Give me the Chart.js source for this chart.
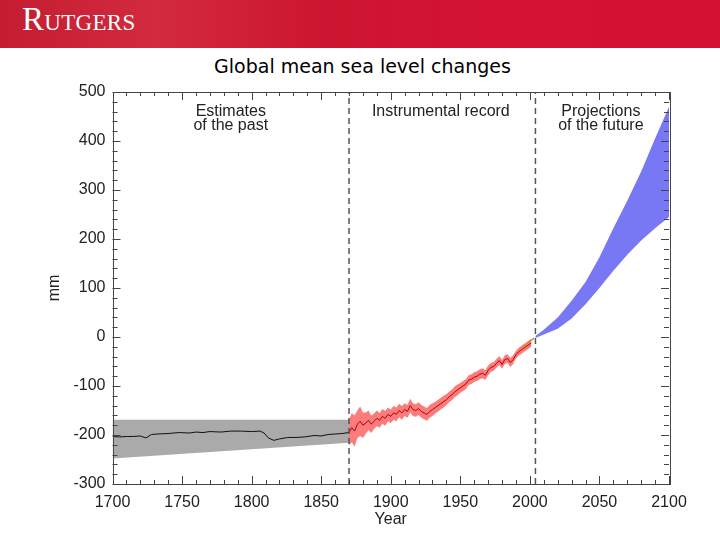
<!DOCTYPE html>
<html>
<head>
<meta charset="utf-8">
<script src="https://cdn.jsdelivr.net/npm/chart.js@4"></script>
<style>
  html, body { margin: 0; padding: 0; background: #fff; }
  #page { position: relative; width: 720px; height: 540px; overflow: hidden; }
  #banner {
    position: absolute; left: 0; top: 0; width: 720px; height: 48px;
    background: linear-gradient(90deg, #c41c30 0%, #d22a3e 22%, #cc1530 45%, #d41232 70%, #d3102f 100%);
  }
  #logo {
    position: absolute; left: 22px; top: 1px;
    font-family: "Liberation Serif", "DejaVu Serif", serif;
    font-size: 33px; font-variant: small-caps; letter-spacing: 0.3px;
    color: #fff;
  }
  #title {
    position: absolute; left: 0; top: 55px; width: 725px; text-align: center;
    font-family: "DejaVu Sans", sans-serif; font-size: 19px; color: #000;
  }
  #chart { position: absolute; left: 0; top: 0; }
</style>
</head>
<body>
<div id="page">
  <div id="banner"><div id="logo">Rutgers</div></div>
  <div id="title">Global mean sea level changes</div>
  <canvas id="chart" width="720" height="540"></canvas>
</div>
<script>
// tick labels
const yearTicks = [1700, 1750, 1800, 1850, 1900, 1950, 2000, 2050, 2100];
const mmTicks = [-300, -200, -100, 0, 100, 200, 300, 400, 500];

// estimates of the past (grey band + black line)
const pastBandYears = [1700, 1870];
const pastBandTop = [-169, -169];
const pastBandBottom = [-248, -216];
const pastYears = [1700, 1705, 1710, 1715, 1720, 1724, 1728, 1732, 1740, 1748, 1755, 1760, 1765, 1770,
  1778, 1785, 1792, 1800, 1806, 1809, 1812, 1816, 1820, 1826, 1832, 1838, 1845, 1850, 1855, 1860, 1865, 1870];
const pastLevel = [-203, -204, -203, -203, -202, -206, -199, -198, -197, -195, -196, -194, -195, -193,
  -194, -192, -192, -193, -192, -196, -206, -211, -208, -205, -205, -204, -201, -202, -199, -198, -197, -195];

// instrumental record (red line + red uncertainty)
const instYears = [1870, 1872, 1874, 1876, 1878, 1880, 1882, 1884, 1886, 1888, 1890, 1892, 1894, 1896, 1898,
  1900, 1902, 1904, 1906, 1908, 1910, 1912, 1914, 1916, 1918, 1920, 1922, 1924, 1926, 1928, 1930, 1932, 1934,
  1936, 1938, 1940, 1942, 1944, 1946, 1948, 1950, 1952, 1954, 1956, 1958, 1960, 1962, 1964, 1966, 1968, 1970,
  1972, 1974, 1976, 1978, 1980, 1982, 1984, 1986, 1988, 1990, 1992, 1994, 1996, 1998, 2000, 2001];
const instLevel = [-195, -185, -192, -178, -172, -180, -176, -170, -178, -172, -166, -170, -162, -166, -158,
  -162, -155, -158, -150, -155, -148, -152, -140, -148, -150, -146, -152, -155, -158, -152, -148, -144, -140,
  -136, -132, -128, -122, -118, -112, -108, -104, -100, -96, -88, -86, -82, -80, -76, -74, -78, -68,
  -62, -60, -54, -48, -56, -46, -44, -52, -46, -36, -30, -26, -22, -18, -14, -12];
const instErr = [26, 30, 32, 28, 30, 26, 22, 20, 18, 16, 16, 15, 15, 15, 14,
  14, 14, 14, 14, 14, 13, 13, 14, 13, 13, 13, 13, 13, 13, 13, 13, 12, 12,
  12, 12, 11, 11, 11, 11, 11, 10, 10, 10, 10, 10, 10, 10, 10, 10, 10, 10,
  9, 9, 9, 9, 9, 9, 9, 9, 9, 8, 8, 8, 8, 8, 8, 8];

// satellite altimetry
const satYears = [1993, 1995, 1997, 1999, 2001, 2003];
const satLevel = [-26, -20, -17, -10, -7, -2];

// projections of the future (blue band)
const projYears = [2004, 2010, 2020, 2030, 2040, 2050, 2060, 2070, 2080, 2090, 2100];
const projHigh = [2, 15, 40, 74, 112, 163, 222, 278, 338, 405, 470];
const projLow = [-2, 5, 17, 38, 67, 100, 135, 168, 197, 222, 245];

// period dividers
const dividerYears = [1870, 2004];

const notes = [
  { lines: ["Estimates", "of the past"], year: 1785 },
  { lines: ["Instrumental record"], year: 1936 },
  { lines: ["Projections", "of the future"], year: 2051 },
];

const pts = (xs, ys) => xs.map((x, i) => ({ x: x, y: ys[i] }));
const font = "'Liberation Sans', Arial, Helvetica, sans-serif";

const line = (data, color, width, order) => ({
  data: data, borderColor: color, borderWidth: width, pointRadius: 0, fill: false, order: order,
});
const band = (lower, upper, color, order) => [
  { data: lower, borderWidth: 0, pointRadius: 0, fill: false, order: order },
  { data: upper, borderWidth: 0, pointRadius: 0, fill: "-1", backgroundColor: color, order: order },
];

const datasets = [
  ...band(pts(pastBandYears, pastBandBottom), pts(pastBandYears, pastBandTop), "#aaaaaa", 10),
  line(pts(pastYears, pastLevel), "#111111", 1, 9),
  ...band(pts(instYears, instLevel.map((v, i) => v - instErr[i])),
          pts(instYears, instLevel.map((v, i) => v + instErr[i])), "rgba(252, 110, 110, 0.9)", 8),
  line(pts(instYears, instLevel), "#b00000", 1, 7),
  line(pts(satYears, satLevel), "#d08a3a", 1.5, 6),
  ...band(pts(projYears, projLow), pts(projYears, projHigh), "#7878f4", 5),
];
dividerYears.forEach((yr) => {
  datasets.push({
    data: [{ x: yr, y: -300 }, { x: yr, y: 500 }],
    borderColor: "#555", borderWidth: 1.5, borderDash: [6, 4], pointRadius: 0, fill: false, order: 1,
  });
});

const framePlugin = {
  id: "frame",
  afterDatasetsDraw(chart) {
    const { ctx, chartArea: a, scales: { x, y } } = chart;
    ctx.save();
    ctx.strokeStyle = "#444";
    ctx.lineWidth = 1;
    ctx.beginPath();
    for (let yr = 1700; yr <= 2100; yr += 10) {
      const px = Math.round(x.getPixelForValue(yr)) + 0.5;
      const len = yearTicks.includes(yr) ? 8 : 4;
      ctx.moveTo(px, a.bottom); ctx.lineTo(px, a.bottom - len);
      ctx.moveTo(px, a.top); ctx.lineTo(px, a.top + len);
    }
    for (let v = -300; v <= 500; v += 20) {
      const py = Math.round(y.getPixelForValue(v)) + 0.5;
      const len = mmTicks.includes(v) ? 8 : 5;
      ctx.moveTo(a.left, py); ctx.lineTo(a.left + len, py);
      ctx.moveTo(a.right, py); ctx.lineTo(a.right - len, py);
    }
    ctx.stroke();
    ctx.strokeRect(Math.round(a.left) + 0.5, Math.round(a.top) + 0.5,
      Math.round(a.right - a.left), Math.round(a.bottom - a.top));

    ctx.fillStyle = "#222";
    ctx.font = "16px " + font;
    ctx.textAlign = "center";
    ctx.textBaseline = "middle";
    notes.forEach((n) => {
      const px = x.getPixelForValue(n.year);
      n.lines.forEach((t, i) => ctx.fillText(t, px, a.top + 20 + i * 13.5));
    });
    ctx.restore();
  },
};

new Chart(document.getElementById("chart"), {
  type: "line",
  data: { datasets: datasets },
  plugins: [framePlugin],
  options: {
    responsive: false,
    animation: false,
    layout: { padding: { top: 92, right: 51, left: 0, bottom: 0 } },
    plugins: { legend: { display: false }, tooltip: { enabled: false } },
    elements: { line: { tension: 0 } },
    scales: {
      x: {
        type: "linear", min: 1700, max: 2100,
        afterFit: (s) => { s.height = 56; },
        grid: { display: false, drawTicks: false }, border: { display: false },
        ticks: {
          stepSize: 10, autoSkip: false, maxRotation: 0, padding: 9, color: "#222",
          font: { family: font, size: 16 },
          callback: (v) => (yearTicks.includes(v) ? String(v) : ""),
        },
        title: { display: true, text: "Year", color: "#222", font: { family: font, size: 16 },
          padding: { top: 0, bottom: 11 } },
      },
      y: {
        type: "linear", min: -300, max: 500,
        afterFit: (s) => { s.width = 112.5; },
        grid: { display: false, drawTicks: false }, border: { display: false },
        ticks: {
          stepSize: 20, autoSkip: false, padding: 7, color: "#222",
          font: { family: font, size: 16 },
          callback: (v) => (mmTicks.includes(v) ? String(v) : ""),
        },
        title: { display: true, text: "mm", color: "#222", font: { family: font, size: 16 },
          padding: { top: 45, bottom: 0 } },
      },
    },
  },
});
</script>
</body>
</html>
